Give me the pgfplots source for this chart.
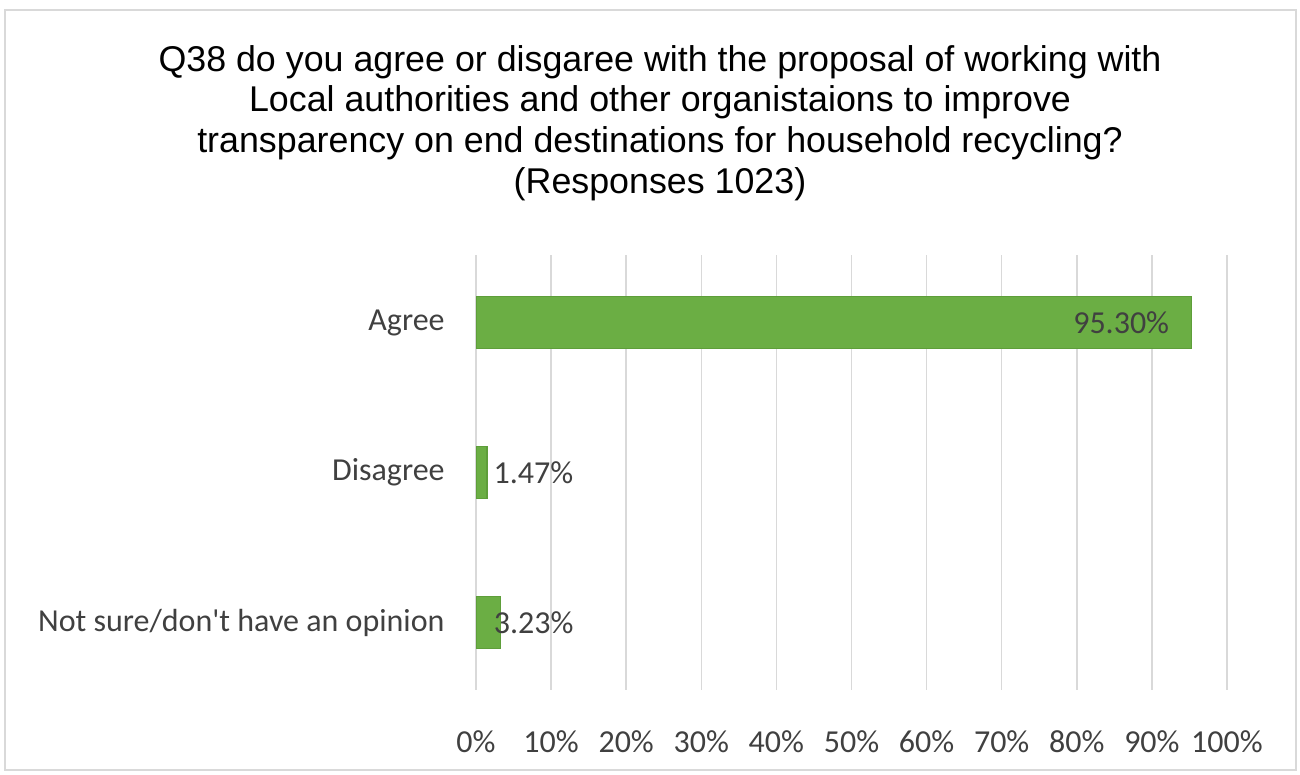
\documentclass[border=0pt]{standalone}
\usepackage{pgfplots}
\pgfplotsset{compat=1.18}
\usepackage{fontspec}
\setmainfont{Carlito}
\newfontfamily\titlefont{Liberation Sans}
\definecolor{bargreen}{HTML}{6BAE44}
\definecolor{bargreenedge}{HTML}{5E9E3A}
\definecolor{txt}{HTML}{404040}
\definecolor{gridc}{HTML}{D9D9D9}
\begin{document}
\begin{tikzpicture}[x=0.5pt,y=0.5pt]
\useasboundingbox (0,0) rectangle (1300,775);
\draw[color=gridc, line width=1pt] (5,5) rectangle (1296,765);
\node[align=center, font=\titlefont\fontsize{17.9}{20.3}\selectfont, text=black] at (660,652)
  {Q38 do you agree or disgaree with the proposal of working with\\
   Local authorities and other organistaions to improve\\
   transparency on end destinations for household recycling?\\
   (Responses 1023)};
\begin{axis}[
  at={(238pt,42.5pt)}, anchor=south west,
  scale only axis, width=375.5pt, height=217.5pt,
  xbar, bar width=26pt, bar shift=0pt,
  xmin=0, xmax=100, ymin=-0.45, ymax=2.45,
  axis line style={draw=none},
  major tick length=0pt,
  xtick={0,10,...,100},
  /pgf/number format/assume math mode=true,
  xticklabel={\pgfmathprintnumber{\tick}\%},
  xmajorgrids, grid style={gridc, line width=0.75pt},
  ytick={0,1,2},
  yticklabels={Not sure/don\textquotesingle t have an opinion, Disagree, Agree},
  tick label style={font=\fontsize{16}{19}\selectfont, text=txt},
  xticklabel style={anchor=center, yshift=-26pt},
  yticklabel style={anchor=east, inner sep=0pt, xshift=-15.5pt},
  nodes near coords={\pgfmathprintnumber[fixed,precision=2,fixed zerofill]{\pgfplotspointmeta}\%},
  every node near coord/.append style={font=\fontsize{16}{19}\selectfont, text=txt, inner sep=0pt},
]
\addplot[fill=bargreen, draw=bargreenedge, line width=0.6pt,
  every node near coord/.append style={anchor=east, xshift=-11pt}] coordinates {(95.30,2)};
\addplot[fill=bargreen, draw=bargreenedge, line width=0.6pt,
  every node near coord/.append style={anchor=west, xshift=3pt}] coordinates {(1.47,1)};
\addplot[fill=bargreen, draw=bargreenedge, line width=0.6pt,
  every node near coord/.append style={anchor=west, xshift=-3.5pt}] coordinates {(3.23,0)};
\end{axis}
\end{tikzpicture}
\end{document}
